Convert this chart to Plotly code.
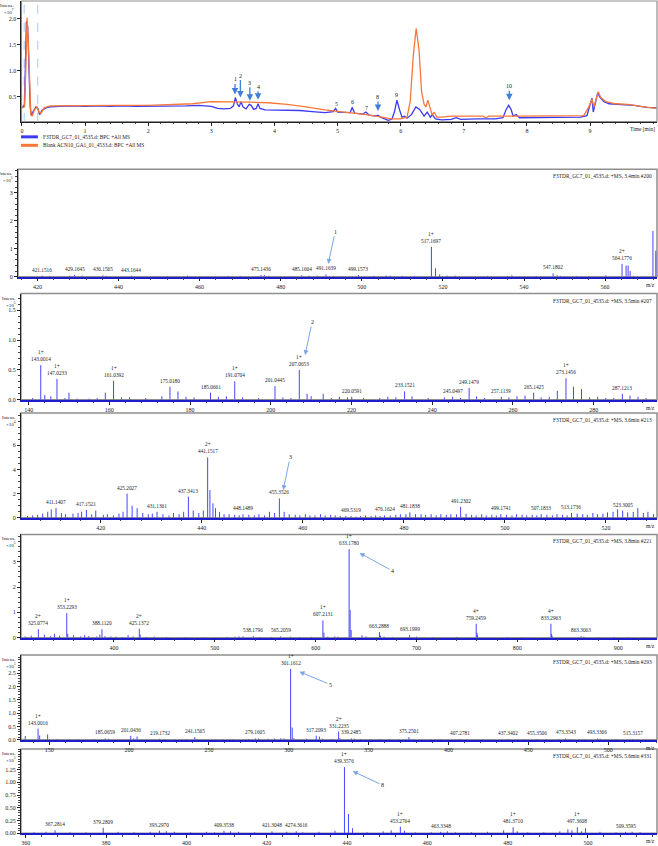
import plotly.graph_objects as go

W, H = 658, 846
SERIF = "Liberation Serif"

# ---------------- chromatogram data (x10^7 intensity units) ----------------
t_sample = [0.00, 0.02, 0.04, 0.05, 0.07, 0.09, 0.11, 0.13, 0.15, 0.18, 0.22, 0.25, 0.28, 0.32, 0.38, 0.45,
            0.6, 0.8, 1.0, 1.2, 1.4, 1.6, 1.8, 2.0, 2.2, 2.4, 2.6, 2.8, 3.0, 3.1, 3.2, 3.3, 3.35, 3.38, 3.41,
            3.44, 3.47, 3.50, 3.55, 3.6, 3.63, 3.67, 3.71, 3.74, 3.77, 3.85, 4.0, 4.2, 4.4, 4.6, 4.8, 4.93,
            4.97, 5.0, 5.2, 5.23, 5.27, 5.4, 5.45, 5.5, 5.6, 5.64, 5.68, 5.8, 5.86, 5.9, 5.94, 5.98, 6.02,
            6.06, 6.1, 6.17, 6.24, 6.3, 6.37, 6.42, 6.47, 6.5, 6.55, 6.65, 6.8, 6.88, 6.95, 7.2, 7.5, 7.62,
            7.67, 7.71, 7.75, 7.78, 7.83, 7.88, 8.0, 8.5, 8.85, 8.95, 9.0, 9.03, 9.05, 9.08, 9.12, 9.16, 9.22,
            9.3, 9.5, 9.7, 9.9, 10.05]
i_sample = [0.30, 0.30, 0.35, 1.20, 1.95, 1.85, 0.90, 0.30, 0.13, 0.22, 0.30, 0.27, 0.15, 0.24, 0.28, 0.30,
            0.31, 0.32, 0.31, 0.32, 0.31, 0.32, 0.31, 0.31, 0.32, 0.31, 0.32, 0.33, 0.31, 0.27, 0.26, 0.27, 0.32,
            0.48, 0.36, 0.30, 0.40, 0.30, 0.26, 0.35, 0.33, 0.25, 0.27, 0.36, 0.27, 0.24, 0.24, 0.23, 0.23, 0.21,
            0.19, 0.21, 0.27, 0.20, 0.19, 0.29, 0.18, 0.16, 0.20, 0.14, 0.12, 0.14, 0.10, 0.04, 0.06, 0.20, 0.43,
            0.25, 0.10, 0.12, 0.08, 0.15, 0.30, 0.25, 0.12, 0.20, 0.10, 0.15, 0.07, 0.05, 0.06, 0.09, 0.06, 0.07,
            0.07, 0.09, 0.25, 0.33, 0.25, 0.12, 0.15, 0.09, 0.09, 0.10, 0.10, 0.13, 0.35, 0.47, 0.20, 0.35, 0.57,
            0.48, 0.40, 0.36, 0.35, 0.33, 0.29, 0.28]
t_blank = [0.00, 0.04, 0.06, 0.08, 0.10, 0.12, 0.14, 0.16, 0.20, 0.24, 0.27, 0.30, 0.35, 0.45, 1.0, 1.5, 2.0,
           2.4, 2.7, 3.0, 3.3, 3.6, 3.9, 4.2, 4.5, 4.8, 5.1, 5.4, 5.7, 5.85, 6.0, 6.1, 6.15, 6.2, 6.245, 6.29,
           6.33, 6.37, 6.4, 6.43, 6.46, 6.5, 6.53, 6.57, 6.65, 6.8, 7.0, 7.3, 7.35, 7.4, 7.8, 8.3, 8.9, 8.98,
           9.03, 9.06, 9.1, 9.13, 9.17, 9.25, 9.4, 9.6, 9.8, 10.05]
i_blank = [0.28, 0.30, 1.00, 2.02, 1.60, 0.60, 0.15, 0.12, 0.25, 0.30, 0.20, 0.17, 0.28, 0.32, 0.33, 0.33, 0.33,
           0.34, 0.36, 0.40, 0.40, 0.39, 0.38, 0.35, 0.30, 0.24, 0.20, 0.16, 0.10, 0.07, 0.07, 0.10, 0.40, 1.30,
           1.82, 1.40, 0.60, 0.35, 0.30, 0.43, 0.30, 0.14, 0.20, 0.10, 0.10, 0.12, 0.12, 0.12, 0.09, 0.12, 0.12,
           0.12, 0.13, 0.30, 0.45, 0.30, 0.50, 0.59, 0.48, 0.40, 0.36, 0.35, 0.31, 0.27]

chrom_ticks = [0, 1, 2, 3, 4, 5, 6, 7, 8, 9]
chrom_yticks = [0.5, 1.0, 1.5, 2.0]

peak_ids = ["1", "2", "3", "4", "5", "6", "7", "8", "9", "10"]
peak_times = [3.375, 3.46, 3.61, 3.74, 4.98, 5.23, 5.46, 5.64, 5.94, 7.72]

# ---------------- mass spectra ----------------
# panel 1 : 3.4 min #200
p1_mz = [421.1516, 429.1645, 436.1565, 443.1644, 475.1436, 485.1664, 491.1639, 499.1573, 517.1697, 547.1802, 564.1776]
p1_int = [0.04, 0.06, 0.05, 0.04, 0.06, 0.05, 0.08, 0.06, 1.07, 0.12, 0.46]
p1_chg = ["", "", "", "", "", "", "", "", "1+", "", "2+"]
p1_mz_o = [423, 428, 431, 437, 449, 452, 457, 462, 467, 470, 476, 477, 483, 487, 489, 493, 495, 503, 506, 507, 510,
           513, 518.17, 519.2, 521, 523, 531, 536, 537, 543, 548.2, 549, 553, 556, 560.2, 565.18, 565.68, 566.18,
           567, 571.8, 572.5]
p1_int_o = [0.03, 0.04, 0.04, 0.03, 0.02, 0.03, 0.04, 0.02, 0.03, 0.03, 0.05, 0.03, 0.02, 0.04, 0.04, 0.03, 0.02,
            0.03, 0.04, 0.04, 0.03, 0.03, 0.30, 0.08, 0.04, 0.04, 0.03, 0.03, 0.05, 0.03, 0.05, 0.03, 0.03, 0.02,
            0.05, 0.40, 0.40, 0.20, 0.03, 1.64, 0.93]

# panel 2 : 3.5 min #207
p2_mz = [143.0014, 147.0233, 161.0392, 175.0180, 185.0661, 191.0704, 201.0445, 207.0653, 220.0591, 233.1521,
         245.0497, 249.1479, 257.1139, 265.1425, 273.1456, 287.1213]
p2_int = [0.58, 0.35, 0.32, 0.22, 0.12, 0.31, 0.23, 0.50, 0.05, 0.14, 0.05, 0.20, 0.05, 0.12, 0.36, 0.10]
p2_chg = ["1+", "1+", "1+", "", "", "1+", "", "1+", "", "", "", "", "", "", "1+", ""]
p2_mz_o = [141, 144, 145.5, 149, 150, 152, 155, 157, 159, 163, 165, 169, 173, 177, 179, 181, 187, 189, 193, 197,
           203, 205, 209, 210, 213, 215, 217, 219, 223, 227, 229, 231, 235, 239, 243, 247, 251, 253, 259, 261,
           263, 267, 269, 271, 275, 277, 279, 281, 283, 285, 289, 291, 293]
p2_int_o = [0.03, 0.08, 0.06, 0.03, 0.12, 0.02, 0.02, 0.03, 0.12, 0.04, 0.04, 0.03, 0.06, 0.14, 0.05, 0.04, 0.05,
            0.06, 0.04, 0.03, 0.04, 0.03, 0.10, 0.06, 0.10, 0.03, 0.05, 0.04, 0.03, 0.03, 0.05, 0.04, 0.06, 0.03,
            0.04, 0.03, 0.06, 0.03, 0.04, 0.06, 0.07, 0.04, 0.05, 0.15, 0.22, 0.18, 0.04, 0.05, 0.03, 0.03, 0.07,
            0.05, 0.03]

# panel 3 : 3.6 min #213
p3_mz = [411.1407, 417.1521, 425.2027, 431.1361, 437.3413, 441.1517, 448.1489, 455.3526, 469.5319, 476.1624,
         481.1838, 491.2302, 499.1741, 507.1833, 513.1736, 523.3005]
p3_int = [0.80, 0.65, 2.00, 0.50, 1.75, 5.00, 0.30, 1.60, 0.15, 0.20, 0.45, 0.90, 0.30, 0.30, 0.40, 0.60]
p3_chg = ["", "", "", "", "", "2+", "", "", "", "", "", "", "", "", "", ""]
p3_mz_o = [405.5, 406.5, 407.5, 408.5, 409.5, 410.2, 412.2, 413.0, 414.5, 415.5, 416.2, 418.2, 419.0, 420.5,
           421.3, 422.5, 423.6, 424.4, 426.2, 427.2, 428.3, 429.4, 430.2, 432.3, 433.5, 434.4, 435.5, 436.4,
           438.3, 439.4, 440.3, 441.6, 442.2, 442.7, 443.5, 444.4, 445.4, 446.5, 447.4, 449.3, 450.4, 451.3,
           452.4, 453.4, 454.4, 456.3, 457.3, 458.5, 459.4, 460.5, 461.4, 462.4, 463.5, 464.4, 465.5, 466.4,
           467.4, 468.5, 470.5, 471.4, 472.4, 473.5, 474.4, 475.3, 477.3, 478.4, 479.3, 480.4, 482.3, 483.4,
           484.3, 485.4, 486.4, 487.3, 488.4, 489.3, 490.4, 492.3, 493.4, 494.3, 495.4, 496.3, 497.4, 498.3,
           500.3, 501.4, 502.3, 503.4, 504.3, 505.4, 506.3, 508.3, 509.4, 510.3, 511.4, 512.3, 514.3, 515.4,
           516.3, 517.4, 518.3, 519.4, 520.3, 521.4, 522.3, 524.3, 525.4, 526.3, 527.4, 528.3, 529.4]
p3_int_o = [0.15, 0.20, 0.25, 0.35, 0.50, 0.70, 0.40, 0.30, 0.35, 0.40, 0.50, 0.30, 0.60, 0.25, 0.30, 0.20,
            0.35, 0.50, 1.00, 0.80, 0.40, 0.30, 0.35, 0.30, 0.20, 0.40, 0.30, 0.50, 0.60, 0.40, 0.60, 2.30,
            1.20, 0.80, 0.50, 0.30, 0.30, 0.25, 0.20, 0.25, 0.20, 0.30, 0.20, 0.50, 0.40, 0.50, 0.30, 0.25,
            0.20, 0.30, 0.20, 0.20, 0.30, 0.20, 0.25, 0.20, 0.15, 0.15, 0.10, 0.15, 0.20, 0.15, 0.20, 0.15,
            0.20, 0.25, 0.30, 0.30, 0.30, 0.30, 0.25, 0.30, 0.20, 0.30, 0.25, 0.30, 0.30, 0.35, 0.25, 0.20,
            0.30, 0.20, 0.25, 0.20, 0.25, 0.20, 0.30, 0.25, 0.20, 0.25, 0.20, 0.25, 0.20, 0.30, 0.25, 0.20,
            0.35, 0.30, 0.25, 0.40, 0.30, 0.35, 0.45, 0.50, 0.70, 0.45, 0.50, 0.80, 0.40, 0.50, 0.30]

# panel 4 : 3.8 min #221
p4_mz = [325.0774, 353.2293, 388.1120, 425.1372, 538.1796, 565.2059, 607.2131, 633.1780, 663.2888, 693.1999,
         759.2459, 833.2963, 863.3063]
p4_int = [0.33, 0.97, 0.33, 0.35, 0.06, 0.05, 0.68, 3.50, 0.22, 0.10, 0.55, 0.55, 0.06]
p4_chg = ["2+", "1+", "", "2+", "", "", "1+", "1+", "", "", "4+", "4+", ""]
p4_mz_o = [312, 318, 331, 337, 341, 346, 354.2, 360, 367, 371, 375, 383, 386, 391, 397, 402, 408, 414, 419, 426,
           432, 440, 452, 470, 490, 512, 520, 524, 528, 545, 556, 575, 584, 596, 608.2, 612, 619, 622, 634.2,
           635.2, 646, 650, 664.3, 668, 676, 700, 716, 740, 760, 760.5, 790, 804, 834, 834.5, 866, 880, 896,
           910, 925]
p4_int_o = [0.05, 0.08, 0.12, 0.06, 0.15, 0.08, 0.15, 0.10, 0.05, 0.10, 0.06, 0.05, 0.12, 0.06, 0.05, 0.04, 0.03,
            0.10, 0.05, 0.12, 0.03, 0.04, 0.03, 0.02, 0.02, 0.03, 0.04, 0.05, 0.05, 0.03, 0.03, 0.04, 0.03, 0.03,
            0.20, 0.04, 0.05, 0.04, 1.10, 0.30, 0.10, 0.05, 0.08, 0.04, 0.03, 0.04, 0.02, 0.03, 0.20, 0.10, 0.03,
            0.02, 0.15, 0.06, 0.04, 0.02, 0.03, 0.02, 0.02]

# panel 5 : 5.0 min #293
p5_mz = [143.0016, 185.0659, 201.0436, 219.1732, 241.1565, 279.1605, 301.1612, 317.2093, 331.2235, 339.2485,
         375.2501, 407.2781, 437.3402, 455.3506, 473.3543, 493.3366, 515.3157]
p5_int = [0.42, 0.05, 0.15, 0.04, 0.10, 0.05, 2.66, 0.15, 0.31, 0.05, 0.10, 0.03, 0.03, 0.03, 0.05, 0.05, 0.03]
p5_chg = ["1+", "", "", "", "", "", "1+", "", "2+", "", "", "", "", "", "", "", ""]
p5_mz_o = [135, 144, 149, 155, 162, 168, 178, 187, 203, 205, 211, 222, 229, 236, 243, 259, 265, 275, 281, 287,
           291, 295, 297, 302.16, 303.2, 311, 319.2, 321, 327, 332, 341, 345, 351, 357, 363, 369, 378, 389, 395,
           411, 421, 447, 461, 469, 476, 485, 495, 505, 519]
p5_int_o = [0.14, 0.16, 0.20, 0.03, 0.02, 0.02, 0.03, 0.04, 0.05, 0.12, 0.02, 0.03, 0.02, 0.02, 0.03, 0.02, 0.02,
            0.03, 0.05, 0.04, 0.05, 0.06, 0.05, 0.46, 0.06, 0.04, 0.12, 0.04, 0.03, 0.06, 0.04, 0.03, 0.02, 0.03,
            0.03, 0.02, 0.02, 0.02, 0.02, 0.02, 0.02, 0.02, 0.03, 0.03, 0.03, 0.02, 0.04, 0.02, 0.02]

# panel 6 : 5.6 min #331
p6_mz = [367.2814, 379.2809, 393.2970, 409.3538, 421.3048, 427.3616, 439.3576, 453.2764, 463.3348, 481.3710,
         497.3608, 509.3595]
p6_lab = ["367.2814", "379.2809", "393.2970", "409.3538", "421.3048", "4274.3616", "439.3576", "453.2764",
          "463.3348", "481.3710", "497.3608", "509.3595"]
p6_int = [0.06, 0.11, 0.05, 0.05, 0.04, 0.04, 1.30, 0.13, 0.03, 0.12, 0.12, 0.03]
p6_chg = ["", "", "", "", "", "", "1+", "1+", "", "1+", "1+", ""]
p6_mz_o = [362, 365, 371, 375, 383, 387, 391, 395, 397, 401, 405, 407, 411, 413, 417, 425, 429, 433, 437, 440.36,
           441.36, 445, 449, 451, 454.3, 457, 461, 465, 467, 471, 475, 479, 482.4, 485, 489, 493, 495, 496,
           498.4, 499.4, 503, 507, 511, 513]
p6_int_o = [0.02, 0.03, 0.02, 0.02, 0.03, 0.02, 0.03, 0.04, 0.03, 0.02, 0.03, 0.02, 0.04, 0.03, 0.02, 0.03, 0.02,
            0.03, 0.05, 0.38, 0.10, 0.02, 0.04, 0.06, 0.05, 0.02, 0.02, 0.04, 0.02, 0.02, 0.03, 0.06, 0.04, 0.02,
            0.02, 0.04, 0.08, 0.06, 0.04, 0.10, 0.03, 0.02, 0.03, 0.02]

spec_titles = ["F3TDR_GC7_01_4535.d: +MS, 3.4min #200", "F3TDR_GC7_01_4535.d: +MS, 3.5min #207",
               "F3TDR_GC7_01_4535.d: +MS, 3.6min #213", "F3TDR_GC7_01_4535.d: +MS, 3.8min #221",
               "F3TDR_GC7_01_4535.d: +MS, 5.0min #293", "F3TDR_GC7_01_4535.d: +MS, 5.6min #331"]
legend_names = ["F3TDR_GC7_01_4535.d: BPC +All MS", "Blank ACN10_GA1_01_4533.d: BPC +All MS"]

# ---------------- layout helpers ----------------
def xdom(l, r):
    return [l / W, r / W]

def ydom(top, bottom):
    return [1 - bottom / H, 1 - top / H]

BLUE = "#3b3bf5"
ORANGE = "#f7773a"
STICK = "#4646ff"
FRAME = "#8f8f8f"
ARROW_C = "#3f7fd8"
ARROW_S = "#7aa6e6"

fig = go.Figure()
annotations = []
shapes = []

tickfont = dict(family=SERIF, size=6, color="#222")

# chromatogram
fig.add_trace(go.Scatter(x=t_sample, y=i_sample, mode="lines", line=dict(color=BLUE, width=1.3),
                         xaxis="x", yaxis="y", showlegend=False))
fig.add_trace(go.Scatter(x=t_blank, y=i_blank, mode="lines", line=dict(color=ORANGE, width=1.3),
                         xaxis="x", yaxis="y", showlegend=False))

layout = dict(
    width=W, height=H, margin=dict(l=0, r=0, t=0, b=0),
    paper_bgcolor="white", plot_bgcolor="white", showlegend=False,
    font=dict(family=SERIF, size=6, color="#222"),
)
layout["xaxis"] = dict(domain=xdom(20.5, 657), range=[-0.008, 10.06], tickvals=chrom_ticks,
                       ticks="outside", ticklen=3, tickcolor="#222", showline=True, linecolor="#222",
                       linewidth=1, showgrid=False, zeroline=False, tickfont=tickfont, anchor="y",
                       minor=dict(ticks="outside", ticklen=1.5, dtick=0.2, tickcolor="#444"))
layout["yaxis"] = dict(domain=ydom(1, 122.3), range=[0.013, 2.346], tickvals=chrom_yticks,
                       ticktext=["0.5", "1.0", "1.5", "2.0"], ticks="outside", ticklen=3, tickcolor="#222",
                       showline=True, linecolor="#222", linewidth=1, showgrid=False, zeroline=False,
                       tickfont=tickfont, anchor="x")
shapes.append(dict(type="rect", xref="x domain", yref="y domain", x0=0, x1=1, y0=0, y1=1,
                   line=dict(color=FRAME, width=1.2), layer="below"))
for tv in [0.035, 0.25]:
    shapes.append(dict(type="line", xref="x", yref="y domain", x0=tv, x1=tv, y0=0, y1=1,
                       line=dict(color="#a9c9ef", width=1, dash="dash"), layer="below"))

# chromatogram peak marks
arrow_cfg = {"1": (0.54, -15), "2": (0.48, -22), "3": (0.42, -18), "4": (0.44, -13),
             "8": (0.22, -14), "10": (0.43, -14)}
text_cfg = {"5": 0.365, "6": 0.40, "7": 0.27, "9": 0.525}
for pid, pt in zip(peak_ids, peak_times):
    if pid in arrow_cfg:
        yv, ay = arrow_cfg[pid]
        annotations.append(dict(x=pt, y=yv, xref="x", yref="y", text=pid, showarrow=True, ax=0, ay=ay,
                                arrowhead=2, arrowsize=1, arrowwidth=1.3, arrowcolor=ARROW_C,
                                font=dict(family=SERIF, size=6, color="#222"), standoff=0))
    else:
        annotations.append(dict(x=pt, y=text_cfg[pid], xref="x", yref="y", text=pid, showarrow=False,
                                font=dict(family=SERIF, size=6, color="#222")))
annotations.append(dict(x=1, y=0, xref="x domain", yref="y domain", text="Time [min]", showarrow=False,
                        xanchor="right", yanchor="top", yshift=-2, font=dict(family=SERIF, size=5.5, color="#222")))
annotations.append(dict(x=15 / W, y=1 - 1 / H, xref="paper", yref="paper", text="Intens.<br>×10<sup>7</sup>",
                        showarrow=False, xanchor="right", yanchor="top", align="right",
                        font=dict(family=SERIF, size=5, color="#222")))

# legend (drawn)
for k, (name, col) in enumerate(zip(legend_names, [BLUE, ORANGE])):
    yy = 1 - (137.5 + 8.5 * k) / H
    shapes.append(dict(type="line", xref="paper", yref="paper", x0=20 / W, x1=37 / W, y0=yy, y1=yy,
                       line=dict(color=col, width=3)))
    annotations.append(dict(x=40 / W, y=yy, xref="paper", yref="paper", text=name, showarrow=False,
                            xanchor="left", yanchor="middle", font=dict(family=SERIF, size=5.3, color="#222")))

# ---------------- spectra ----------------
panels = [
    dict(mz=p1_mz, it=p1_int, lab=[f"{m:.4f}" for m in p1_mz], chg=p1_chg, mzo=p1_mz_o, ito=p1_int_o,
         xd=(17, 657), yd=(170, 278), xr=[415.2, 572.8], yr=[0, 3.85], xdt=20, xmin=4, ytv=[0, 1, 2, 3],
         ytt=["0", "1", "2", "3"], ymin=0.2, arrow=("1", 491.7, 0.46, 7, -32), exp="5"),
    dict(mz=p2_mz, it=p2_int, lab=[f"{m:.4f}" for m in p2_mz], chg=p2_chg, mzo=p2_mz_o, ito=p2_int_o,
         xd=(20, 657), yd=(295, 401.7), xr=[138.1, 295.7], yr=[0, 1.78], xdt=20, xmin=4,
         ytv=[0, 0.5, 1.0, 1.5], ytt=["0.0", "0.5", "1.0", "1.5"], ymin=0.1, arrow=("2", 208.5, 0.75, 7, -33), exp="5"),
    dict(mz=p3_mz, it=p3_int, lab=[f"{m:.4f}" for m in p3_mz], chg=p3_chg, mzo=p3_mz_o, ito=p3_int_o,
         xd=(20, 657), yd=(415, 520.3), xr=[404.2, 530.1], yr=[0, 8.67], xdt=20, xmin=4,
         ytv=[0, 2, 4, 6], ytt=["0", "2", "4", "6"], ymin=0.5, arrow=("3", 456.1, 2.3, 7, -33), exp="4"),
    dict(mz=p4_mz, it=p4_int, lab=[f"{m:.4f}" for m in p4_mz], chg=p4_chg, mzo=p4_mz_o, ito=p4_int_o,
         xd=(20, 657), yd=(537, 640.7), xr=[307.8, 938.5], yr=[0, 4.08], xdt=100, xmin=20,
         ytv=[0, 1, 2, 3], ytt=["0", "1", "2", "3"], ymin=0.2, arrow=("4", 643.5, 3.35, 33, 18), exp="5"),
    dict(mz=p5_mz, it=p5_int, lab=[f"{m:.4f}" for m in p5_mz], chg=p5_chg, mzo=p5_mz_o, ito=p5_int_o,
         xd=(20, 657), yd=(658, 743.3), xr=[132.3, 530.6], yr=[0, 3.19], xdt=50, xmin=10,
         ytv=[0, 0.5, 1.0, 1.5, 2.0, 2.5], ytt=["0.0", "0.5", "1.0", "1.5", "2.0", "2.5"], ymin=0.1,
         arrow=("5", 306.7, 2.56, 31, 13), exp="5"),
    dict(mz=p6_mz, it=p6_int, lab=p6_lab, chg=p6_chg, mzo=p6_mz_o, ito=p6_int_o,
         xd=(20, 657), yd=(752.5, 837.3), xr=[358.8, 517.2], yr=[0, 1.656], xdt=20, xmin=4,
         ytv=[0, 0.25, 0.5, 0.75, 1.0, 1.25], ytt=["0.00", "0.25", "0.50", "0.75", "1.00", "1.25"], ymin=0.05,
         arrow=("8", 441.4, 1.22, 30, 14), exp="5"),
]

for k, p in enumerate(panels):
    n = k + 2
    xa, ya = f"x{n}", f"y{n}"
    allm = list(p["mz"]) + list(p["mzo"])
    alli = list(p["it"]) + list(p["ito"])
    xs, ys = [], []
    for m, v in zip(allm, alli):
        xs += [m, m, None]
        ys += [0, v, None]
    fig.add_trace(go.Scatter(x=xs, y=ys, mode="lines", line=dict(color=STICK, width=1),
                             xaxis=xa, yaxis=ya, showlegend=False, hoverinfo="skip"))
    layout[f"xaxis{n}"] = dict(domain=xdom(*p["xd"]), range=p["xr"], dtick=p["xdt"], tick0=0,
                               ticks="outside", ticklen=3, tickcolor="#222", showline=True,
                               linecolor="#1d1dcc", linewidth=1.6, showgrid=False, zeroline=False,
                               tickfont=tickfont, anchor=ya,
                               minor=dict(ticks="outside", ticklen=1.5, dtick=p["xmin"], tickcolor="#444"))
    layout[f"yaxis{n}"] = dict(domain=ydom(*p["yd"]), range=p["yr"], tickvals=p["ytv"], ticktext=p["ytt"],
                               ticks="outside", ticklen=3, tickcolor="#222", showline=True, linecolor="#222",
                               linewidth=1, showgrid=False, zeroline=False, tickfont=tickfont, anchor=xa,
                               minor=dict(ticks="outside", ticklen=1.5, dtick=p["ymin"], tickcolor="#444"))
    shapes.append(dict(type="rect", xref=f"{xa} domain", yref=f"{ya} domain", x0=0, x1=1, y0=0, y1=1,
                       line=dict(color=FRAME, width=1.5), layer="below"))
    for m, v, lab, ch in zip(p["mz"], p["it"], p["lab"], p["chg"]):
        txt = (ch + "<br>" + lab) if ch else lab
        annotations.append(dict(x=m, y=v, xref=xa, yref=ya, text=txt, showarrow=False, yanchor="bottom",
                                yshift=1, font=dict(family=SERIF, size=5.3, color="#222")))
    aid, amz, aint, aax, aay = p["arrow"]
    annotations.append(dict(x=amz, y=aint, xref=xa, yref=ya, text=aid, showarrow=True, ax=aax, ay=aay,
                            arrowhead=2, arrowsize=1, arrowwidth=1, arrowcolor=ARROW_S, standoff=0,
                            font=dict(family=SERIF, size=6, color="#222")))
    annotations.append(dict(x=0.995, y=1, xref=f"{xa} domain", yref=f"{ya} domain", text=spec_titles[k],
                            showarrow=False, xanchor="right", yanchor="top", yshift=-2,
                            font=dict(family=SERIF, size=5.4, color="#222")))
    annotations.append(dict(x=1, y=0, xref=f"{xa} domain", yref=f"{ya} domain", text="m/z",
                            showarrow=False, xanchor="right", yanchor="top", yshift=-3,
                            font=dict(family=SERIF, size=5.5, color="#222")))
    annotations.append(dict(x=(p["xd"][0] - 3) / W, y=1 - p["yd"][0] / H, xref="paper", yref="paper",
                            text=f"Intens.<br>×10<sup>{p['exp']}</sup>", showarrow=False, xanchor="right",
                            yanchor="top", align="right", font=dict(family=SERIF, size=5, color="#222")))

layout["annotations"] = annotations
layout["shapes"] = shapes
fig.update_layout(**layout)
fig.write_html("out.html", config={"displayModeBar": False},
               post_script="document.body.style.margin='0';document.body.style.overflow='hidden';")
